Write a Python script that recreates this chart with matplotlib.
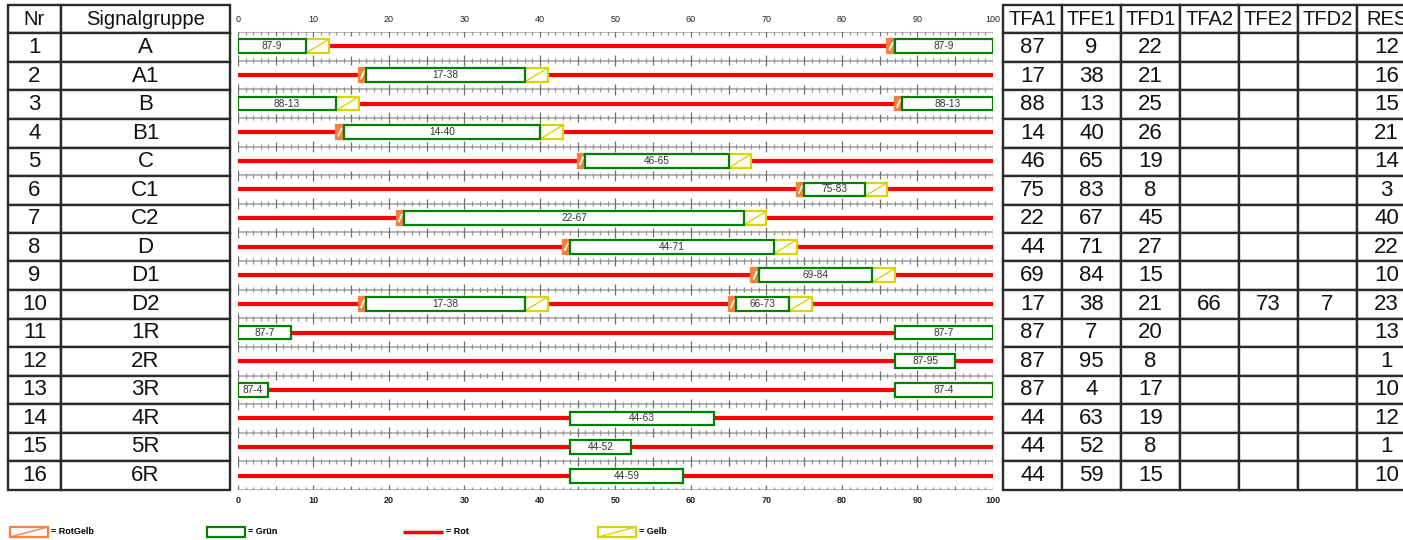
import numpy as np
import matplotlib
matplotlib.use("Agg")
import matplotlib.pyplot as plt
from matplotlib.patches import Rectangle

plt.rcParams['font.family'] = ['Liberation Sans', 'DejaVu Sans']

# data
nr = list(range(1, 17))
groups = ['A', 'A1', 'B', 'B1', 'C', 'C1', 'C2', 'D', 'D1', 'D2',
          '1R', '2R', '3R', '4R', '5R', '6R']
tfa1 = [87, 17, 88, 14, 46, 75, 22, 44, 69, 17, 87, 87, 87, 44, 44, 44]
tfe1 = [9, 38, 13, 40, 65, 83, 67, 71, 84, 38, 7, 95, 4, 63, 52, 59]
tfd1 = [22, 21, 25, 26, 19, 8, 45, 27, 15, 21, 20, 8, 17, 19, 8, 15]
tfa2 = [None] * 9 + [66] + [None] * 6
tfe2 = [None] * 9 + [73] + [None] * 6
tfd2 = [None] * 9 + [7] + [None] * 6
res = [12, 16, 15, 21, 14, 3, 40, 22, 10, 23, 13, 1, 10, 12, 1, 10]
rotgelb_dur = [1] * 10 + [0] * 6
gelb_dur = [3] * 10 + [0] * 6
cycle = 100

GREEN = '#008000'
RED = '#ff0000'
YELLOW = '#d6d600'
ORANGE = '#f5813f'

W, H = 1403, 540
fig = plt.figure(figsize=(W / 100, H / 100), dpi=100)


def px_axes(x0, y0, x1, y1):
    return fig.add_axes([x0 / W, 1 - y1 / H, (x1 - x0) / W, (y1 - y0) / H])


def spans(a, e):
    # interval a->e on the cycle, split if it wraps
    a %= cycle
    e %= cycle
    if a < e:
        return [(a, e)]
    return [(a, cycle), (0, e)]


# ---------- signal plan ----------
ax = px_axes(238, 32, 993, 490)
ax.set_xlim(0, cycle)
ax.set_ylim(len(groups), 0)
ax.axis('off')

# rulers
xs = np.arange(0, cycle + 1)
half = np.where(xs % 10 == 0, 0.19, np.where(xs % 5 == 0, 0.15, 0.09))
tcol = np.where(xs % 5 == 0, '#6e6e6e', '#939393')
for r in range(len(groups) + 1):
    ax.hlines(r, 0, cycle, color='#a8a8a8', lw=1.2, zorder=1)
    ax.vlines(xs, r - half, r + half, colors=tcol, lw=0.9, zorder=1)
for t in range(0, cycle + 1, 10):
    ax.text(t, -0.42, str(t), ha='center', va='center', fontsize=6.5, color='#222')
    ax.text(t, len(groups) + 0.38, str(t), ha='center', va='center', fontsize=6.5,
            color='#222', fontweight='bold')

bh = 0.48
for i in range(len(groups)):
    y = i + 0.5
    phases = [(tfa1[i], tfe1[i])]
    if tfa2[i] is not None:
        phases.append((tfa2[i], tfe2[i]))
    covered = np.zeros(cycle, bool)
    for a, e in phases:
        # green
        for s0, s1 in spans(a, e):
            ax.add_patch(Rectangle((s0, y - bh / 2), s1 - s0, bh, fc='white',
                                   ec=GREEN, lw=1.6, zorder=4))
            ax.text((s0 + s1) / 2, y, f'{a}-{e}', ha='center', va='center',
                    fontsize=7.3, color='#333', zorder=5)
            covered[int(s0):int(s1)] = True
        # rotgelb
        if rotgelb_dur[i]:
            s0, s1 = a - rotgelb_dur[i], a
            ax.add_patch(Rectangle((s0, y - bh / 2), s1 - s0, bh, fc=ORANGE,
                                   ec=ORANGE, lw=1.6, zorder=3))
            ax.plot([s0 + 0.3, s1 - 0.3], [y + bh / 4, y - bh / 4], color='white',
                    lw=1.2, zorder=3)
            covered[int(s0):int(s1)] = True
        # gelb
        if gelb_dur[i]:
            s0, s1 = e, e + gelb_dur[i]
            ax.add_patch(Rectangle((s0, y - bh / 2), s1 - s0, bh, fc='white',
                                   ec=YELLOW, lw=1.6, zorder=3))
            ax.plot([s0, s1], [y + bh / 2, y - bh / 2], color=YELLOW, lw=1.0, zorder=3)
            covered[int(s0):int(s1)] = True
    # red: the rest of the cycle, as continuous segments
    edges = np.diff(np.concatenate([[0], (~covered).astype(int), [0]]))
    starts = np.where(edges == 1)[0]
    ends = np.where(edges == -1)[0]
    for s0, s1 in zip(starts, ends):
        ax.plot([s0, s1], [y, y], color=RED, lw=3.0, solid_capstyle='butt', zorder=2)

# ---------- tables ----------
def make_table(x0, x1, cols, header, body):
    tax = px_axes(x0, 5, x1, 489.5)
    tax.axis('off')
    tb = tax.table(cellText=body, colLabels=header, bbox=[0, 0, 1, 1],
                   cellLoc='center', colWidths=cols)
    tb.auto_set_font_size(False)
    for (r, c), cell in tb.get_celld().items():
        cell.set_linewidth(1.7)
        cell.set_edgecolor('#2a2a2a')
        cell.get_text().set_fontsize(14.5 if r == 0 else 16)
        cell.get_text().set_color('#111')
    return tb


left_body = [[str(n), g] for n, g in zip(nr, groups)]
make_table(8, 230, [53, 169], ['Nr', 'Signalgruppe'], left_body)


def fmt(v):
    return '' if v is None else str(v)


right_body = [[fmt(v) for v in row] for row in
              zip(tfa1, tfe1, tfd1, tfa2, tfe2, tfd2, res)]
make_table(1003, 1416, [1] * 7,
           ['TFA1', 'TFE1', 'TFD1', 'TFA2', 'TFE2', 'TFD2', 'RES'], right_body)

# ---------- legend ----------
lax = px_axes(0, 520, W, 540)
lax.set_xlim(0, W)
lax.set_ylim(20, 0)
lax.axis('off')
ly = 12
for x0, kind, label in [(10, 'rotgelb', '= RotGelb'), (207, 'gruen', '= Grün'),
                        (403, 'rot', '= Rot'), (598, 'gelb', '= Gelb')]:
    if kind == 'rot':
        lax.plot([x0, x0 + 40], [ly, ly], color=RED, lw=2.5, solid_capstyle='butt')
        tx = x0 + 43
    else:
        col = {'rotgelb': ORANGE, 'gruen': GREEN, 'gelb': YELLOW}[kind]
        lax.add_patch(Rectangle((x0, ly - 5), 38, 10, fc='white', ec=col, lw=1.6))
        if kind != 'gruen':
            lax.plot([x0, x0 + 38], [ly + 5, ly - 5], color=col, lw=1.0)
        tx = x0 + 41
    lax.text(tx, ly, label, ha='left', va='center', fontsize=6.5, fontweight='bold')

fig.savefig('out.png', dpi=100)
